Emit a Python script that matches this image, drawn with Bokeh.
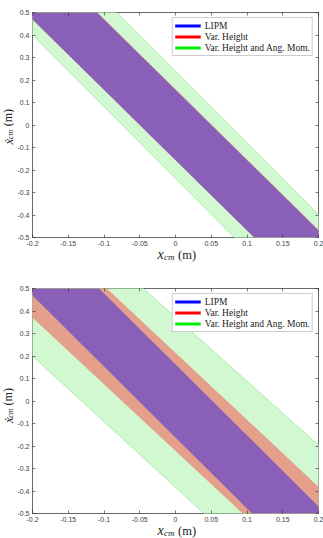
import math

from bokeh.core.properties import value
from bokeh.embed import file_html
from bokeh.layouts import column, row
from bokeh.models import (CustomJSTickFormatter, FixedTicker, Legend,
                          LegendItem, LinearAxis, Range1d)
from bokeh.plotting import figure
from bokeh.resources import INLINE

# ---- data -----------------------------------------------------------------
x_ticks = [-0.2, -0.15, -0.1, -0.05, 0, 0.05, 0.1, 0.15, 0.2]
y_ticks = [-0.5, -0.4, -0.3, -0.2, -0.1, 0, 0.1, 0.2, 0.3, 0.4, 0.5]

series_names = ["LIPM", "Var. Height", "Var. Height and Ang. Mom."]

# capture-region corners (x_cm, xdot_cm); every band shares the same y corners
band_y = [0.5, -0.5, -0.5, 0.5]

# upper panel
top_lipm_x = [-0.110, 0.210, 0.110, -0.210]
top_height_x = [-0.109, 0.211, 0.110, -0.210]
top_angmom_x = [-0.082, 0.232, 0.082, -0.231]

# lower panel
bot_lipm_x = [-0.107, 0.210, 0.107, -0.210]
bot_height_x = [-0.096, 0.240, 0.094, -0.244]
bot_angmom_x = [-0.045, 0.307, 0.040, -0.303]

# axis titles, split into base / subscript / unit
x_title = ["x", "cm", "(m)"]
y_title = ["ẋ", "cm", "(m)"]

# ---- style / layout -------------------------------------------------------
LINE_COLORS = ["#0000ff", "#ff0000", "#00ee00"]
FILL_LIPM = "#8a5fb8"
FILL_HEIGHT = "#e4a08b"
FILL_ANGMOM = "#d2f8d2"
EDGE_ANGMOM = "#9fe69f"
FRAME = "#262626"
TICK_TEXT = "#404040"
TITLE_TEXT = "#222222"
SERIF = "Liberation Serif"

W = 323
YLAB_W = 14
BORDER_L, BORDER_R, BORDER_B = 16, 5, 11
FRAME_H = 225
FRAME_CX = (33 + 318) / 2

fmt = CustomJSTickFormatter(code="return String(Math.round(tick * 100) / 100);")


def style_axis(ax, ticks, show_labels=True):
    ax.ticker = FixedTicker(ticks=ticks)
    ax.formatter = fmt
    ax.axis_line_color = None
    ax.major_tick_in = 3
    ax.major_tick_out = 0
    ax.major_tick_line_color = FRAME
    ax.major_tick_line_width = 0.6
    ax.minor_tick_line_color = None
    ax.major_label_text_font = "Liberation Sans"
    ax.major_label_text_color = TICK_TEXT
    if show_labels:
        ax.major_label_text_font_size = "7px"
        ax.major_label_standoff = 3
    else:
        ax.major_label_text_font_size = "0px"
        ax.major_label_standoff = 0


def blank(width, height):
    # plain canvas in pixel units (y measured downward as negative values)
    f = figure(width=width, height=height, output_backend="svg", toolbar_location=None,
               x_range=Range1d(0, width), y_range=Range1d(-height, 0),
               x_axis_type=None, y_axis_type=None, min_border=0,
               outline_line_color=None, background_fill_color="white",
               border_fill_color="white")
    f.xgrid.visible = False
    f.ygrid.visible = False
    return f


def put(f, x, y, text, size, italic, angle=0.0):
    f.text(x=[x], y=[y], text=[text], angle=angle, text_font=value(SERIF),
           text_font_style="italic" if italic else "normal", text_font_size=size,
           text_align="left", text_baseline="middle", text_color=TITLE_TEXT)


def x_title_fig(height):
    f = blank(W, height)
    yc = -6
    put(f, FRAME_CX - 18.5, yc, x_title[0], "14px", True)
    put(f, FRAME_CX - 12.0, yc - 2.5, x_title[1], "9px", True)
    put(f, FRAME_CX + 2.0, yc, x_title[2], "12.5px", False)
    return f


def y_title_fig(height, frame_top):
    f = blank(YLAB_W, height)
    cy = frame_top + FRAME_H / 2 + 3
    xc = 7.5
    a = math.pi / 2
    put(f, xc, -(cy + 18.0), y_title[0], "13px", True, a)
    put(f, xc + 2.0, -(cy + 12.0), y_title[1], "8px", True, a)
    put(f, xc, -(cy - 2.0), y_title[2], "12px", False, a)
    return f


def panel(border_top, lipm_x, height_x, angmom_x):
    height = border_top + FRAME_H + BORDER_B
    p = figure(width=W - YLAB_W, height=height, output_backend="svg", toolbar_location=None,
               x_range=Range1d(-0.2, 0.2), y_range=Range1d(-0.5, 0.5),
               min_border_left=BORDER_L, min_border_right=BORDER_R,
               min_border_top=border_top, min_border_bottom=BORDER_B,
               background_fill_color="white", border_fill_color="white")
    p.xgrid.visible = False
    p.ygrid.visible = False
    p.outline_line_color = FRAME
    p.outline_line_width = 0.7
    style_axis(p.xaxis[0], x_ticks)
    style_axis(p.yaxis[0], y_ticks)
    top_ax = LinearAxis()
    right_ax = LinearAxis()
    style_axis(top_ax, x_ticks, show_labels=False)
    style_axis(right_ax, y_ticks, show_labels=False)
    p.add_layout(top_ax, "above")
    p.add_layout(right_ax, "right")

    # regions, widest first
    p.patch(angmom_x, band_y, fill_color=FILL_ANGMOM, line_color=EDGE_ANGMOM, line_width=0.8)
    p.patch(height_x, band_y, fill_color=FILL_HEIGHT, line_color=None)
    p.patch(lipm_x, band_y, fill_color=FILL_LIPM, line_color=None)

    # legend entries drawn as coloured lines (no visible data of their own)
    items = []
    for name, col in zip(series_names, LINE_COLORS):
        r = p.line(x=[float("nan")], y=[float("nan")], line_color=col, line_width=3)
        items.append(LegendItem(label=name, renderers=[r]))
    leg = Legend(items=items, location="top_right", margin=5,
                 padding=2, spacing=0, glyph_width=26, glyph_height=11,
                 label_height=11, label_standoff=4,
                 label_text_font=SERIF, label_text_font_size="9.5px",
                 label_text_color=TITLE_TEXT,
                 border_line_color="#9a9a9a", border_line_width=0.7,
                 background_fill_color="white", background_fill_alpha=1.0)
    p.add_layout(leg, "center")

    body = row(y_title_fig(height, border_top), p, spacing=0)
    return body, height


top_body, top_h = panel(12, top_lipm_x, top_height_x, top_angmom_x)
bot_body, bot_h = panel(19, bot_lipm_x, bot_height_x, bot_angmom_x)

layout = column(top_body, x_title_fig(269 - top_h),
                bot_body, x_title_fig(269 - bot_h), spacing=0)

open("out.html", "w").write(file_html(layout, INLINE))
